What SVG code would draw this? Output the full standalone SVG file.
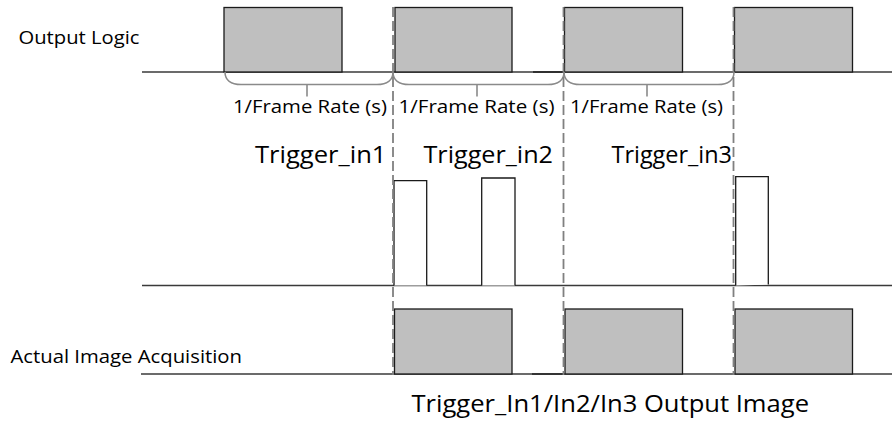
<svg xmlns="http://www.w3.org/2000/svg" width="892" height="421" viewBox="0 0 892 421">
<style>
.bg{fill:#ffffff}
.base{stroke:#3a3a3a;stroke-width:1.3;fill:none}
.seg{stroke:#222222;stroke-width:1.6;fill:none}
.box{fill:#bfbfbf;stroke:#1a1a1a;stroke-width:1.3}
.pulse{fill:#ffffff;stroke:#1a1a1a;stroke-width:1.3}
.dash{stroke:#808080;stroke-width:1.8;stroke-dasharray:10 4;fill:none}
.brace{stroke:#8a8a8a;stroke-width:1.6;fill:none}
.t{font-family:"Open Sans","Noto Sans","Liberation Sans",sans-serif;fill:#000000}
.s{font-size:19px}
.m{font-size:19px}
.l{font-size:23px}
</style>
<rect class="bg" x="0" y="0" width="892" height="421"/>

<g id="output-logic">
  <text class="t s" x="18.5" y="43.5" textLength="121" lengthAdjust="spacingAndGlyphs">Output Logic</text>
  <line class="base" x1="142" y1="72" x2="892" y2="72"/>
  <line class="seg" x1="533" y1="72" x2="564" y2="72"/>
  <g id="ol-box1"><rect class="box" x="224" y="7.5" width="118" height="64.5"/></g>
  <g id="ol-box2"><rect class="box" x="395" y="7.5" width="117" height="64.5"/></g>
  <g id="ol-box3"><rect class="box" x="564.5" y="7.5" width="118" height="64.5"/></g>
  <g id="ol-box4"><rect class="box" x="734.5" y="7.5" width="118" height="64.5"/></g>
</g>

<g id="frame-rate-braces">
  <g id="brace1">
    <path class="brace" d="M225 72 C225 80 231 84.5 241 84.5 L377 84.5 C387 84.5 393 80 393 72"/>
    <line class="brace" x1="307" y1="84.5" x2="307" y2="96.5"/>
    <text class="t m" x="233" y="112.5" textLength="154" lengthAdjust="spacingAndGlyphs">1/Frame Rate (s)</text>
  </g>
  <g id="brace2">
    <path class="brace" d="M393 72 C393 80 399 84.5 409 84.5 L548 84.5 C558 84.5 564 80 564 72"/>
    <line class="brace" x1="477" y1="84.5" x2="477" y2="96.5"/>
    <text class="t m" x="398.5" y="112.5" textLength="156" lengthAdjust="spacingAndGlyphs">1/Frame Rate (s)</text>
  </g>
  <g id="brace3">
    <path class="brace" d="M564 72 C564 80 570 84.5 580 84.5 L718 84.5 C728 84.5 734 80 734 72"/>
    <line class="brace" x1="647" y1="84.5" x2="647" y2="96.5"/>
    <text class="t m" x="570" y="112.5" textLength="153" lengthAdjust="spacingAndGlyphs">1/Frame Rate (s)</text>
  </g>
</g>

<g id="trigger-in">
  <text class="t l" x="255" y="162.5" textLength="131.5" lengthAdjust="spacingAndGlyphs">Trigger_in1</text>
  <text class="t l" x="423.5" y="162.5" textLength="129.5" lengthAdjust="spacingAndGlyphs">Trigger_in2</text>
  <text class="t l" x="611.5" y="163" textLength="120.5" lengthAdjust="spacingAndGlyphs">Trigger_in3</text>
  <line class="base" x1="142" y1="285.5" x2="892" y2="285.5"/>
  <g id="pulse1"><polyline class="pulse" points="394,285.5 394,180.7 426.7,180.7 426.7,285.5"/></g>
  <g id="pulse2"><polyline class="pulse" points="481.7,285.5 481.7,178 515,178 515,285.5"/></g>
  <g id="pulse3"><polyline class="pulse" points="735.7,285.5 735.7,176.7 768.3,176.7 768.3,284.5"/></g>
</g>

<g id="actual-image-acquisition">
  <text class="t s" x="10.5" y="362.5" textLength="231.5" lengthAdjust="spacingAndGlyphs">Actual Image Acquisition</text>
  <line class="base" x1="141" y1="374" x2="892" y2="374"/>
  <line class="seg" x1="532" y1="374" x2="565" y2="374"/>
  <g id="ai-box1"><rect class="box" x="394.5" y="309" width="117.5" height="65"/></g>
  <g id="ai-box2"><rect class="box" x="565" y="309" width="117.5" height="65"/></g>
  <g id="ai-box3"><rect class="box" x="735" y="309" width="117.5" height="65"/></g>
  <text class="t l" x="411.5" y="411.5" textLength="397.5" lengthAdjust="spacingAndGlyphs">Trigger_In1/In2/In3 Output Image</text>
</g>

<g id="connectors">
  <line class="dash" x1="393" y1="7" x2="393" y2="375"/>
  <line class="dash" x1="563.5" y1="7" x2="563.5" y2="375"/>
  <line class="dash" x1="733.5" y1="7" x2="733.5" y2="375"/>
</g>
</svg>
